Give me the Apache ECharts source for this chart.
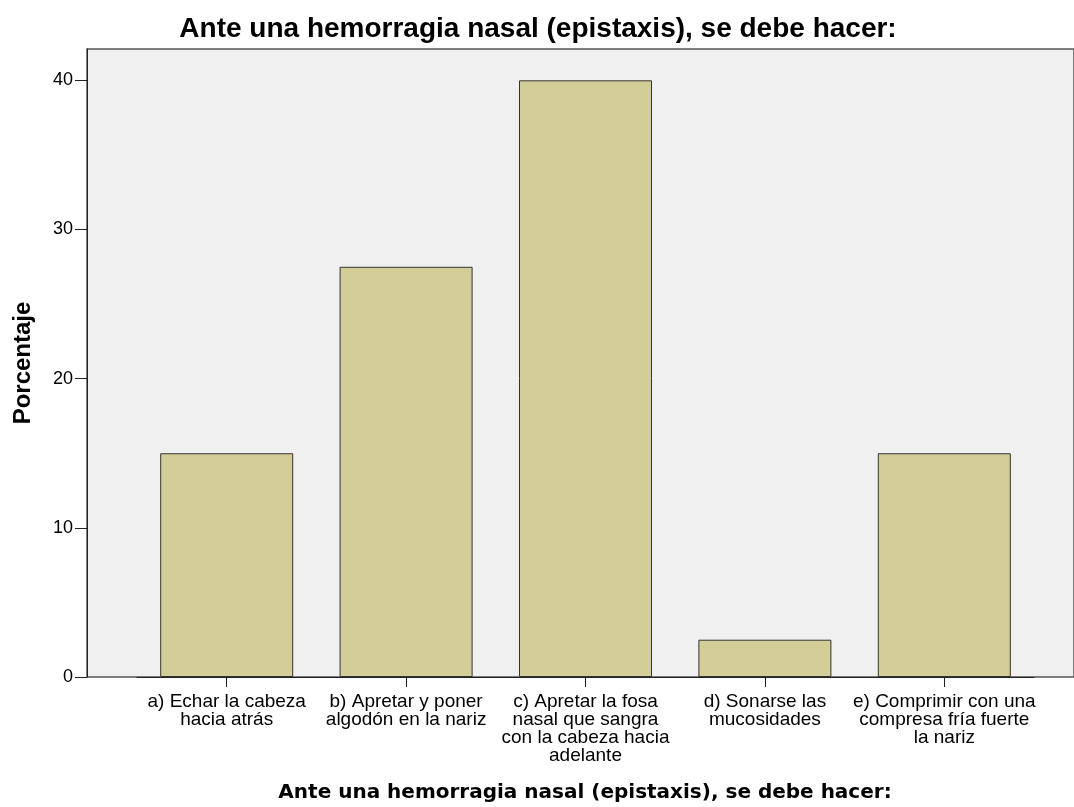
<!DOCTYPE html>
<html>
<head>
<meta charset="utf-8">
<script src="https://cdn.jsdelivr.net/npm/echarts@6/dist/echarts.min.js"></script>
<style>html,body{margin:0;padding:0;background:#fff}#c{width:1074px;height:807px}</style>
</head>
<body>
<div id="c"></div>
<script>
const categories = [
  'a) Echar la cabeza\nhacia atrás',
  'b) Apretar y poner\nalgodón en la nariz',
  'c) Apretar la fosa\nnasal que sangra\ncon la cabeza hacia\nadelante',
  'd) Sonarse las\nmucosidades',
  'e) Comprimir con una\ncompresa fría fuerte\nla nariz'
];
const porcentaje = [15, 27.5, 40, 2.5, 15];
const yTicks = [0, 10, 20, 30, 40];
const titleText = 'Ante una hemorragia nasal (epistaxis), se debe hacer:';
const yName = 'Porcentaje';

const chart = echarts.init(document.getElementById('c'), null, {renderer: 'canvas'});
const YMAX = 42.1;
chart.setOption({
  animation: false,
  backgroundColor: '#ffffff',
  title: [
    {text: titleText, left: 538, top: 15, textAlign: 'center', padding: 0,
     textStyle: {fontFamily: 'Liberation Sans', fontWeight: 'bold', fontSize: 28, color: '#000'}},
    {text: titleText, left: 585, top: 783, textAlign: 'center', padding: 0,
     textStyle: {fontFamily: 'DejaVu Sans', fontWeight: 'bold', fontSize: 20, color: '#000'}}
  ],
  grid: [
    {left: 87, right: -5, top: 49, bottom: 130, show: true, backgroundColor: '#f0f0f0',
     borderColor: '#555', borderWidth: 1.5},
    {left: 137, right: 40, top: 49, bottom: 130}
  ],
  xAxis: [
    {gridIndex: 0, type: 'value', min: 0, max: 1, show: false},
    {gridIndex: 1, type: 'category', data: categories,
     axisLine: {show: true, lineStyle: {color: '#222', width: 1}},
     axisTick: {show: true, alignWithLabel: true, length: 10, lineStyle: {color: '#222'}},
     axisLabel: {interval: 0, margin: 16, fontFamily: 'Liberation Sans', fontSize: 19, lineHeight: 18, color: '#000', align: 'center'}}
  ],
  yAxis: [
    {gridIndex: 0, type: 'value', min: 0, max: YMAX, name: yName, nameLocation: 'middle', nameGap: 52,
     nameTextStyle: {fontFamily: 'Liberation Sans', fontWeight: 'bold', fontSize: 24, color: '#000'},
     splitLine: {show: false},
     axisLine: {show: true, lineStyle: {color: '#222', width: 1}},
     axisTick: {show: true, length: 12, lineStyle: {color: '#222'}, customValues: yTicks},
     axisLabel: {margin: 14, fontFamily: 'Liberation Sans', fontSize: 18, color: '#000', customValues: yTicks}},
    {gridIndex: 1, type: 'value', min: 0, max: YMAX, show: false, splitLine: {show: false}}
  ],
  series: [{
    type: 'bar', xAxisIndex: 1, yAxisIndex: 1, data: porcentaje, barWidth: 133,
    itemStyle: {color: '#d3ce98', borderColor: '#333', borderWidth: 1}
  }]
});
</script>
</body>
</html>
